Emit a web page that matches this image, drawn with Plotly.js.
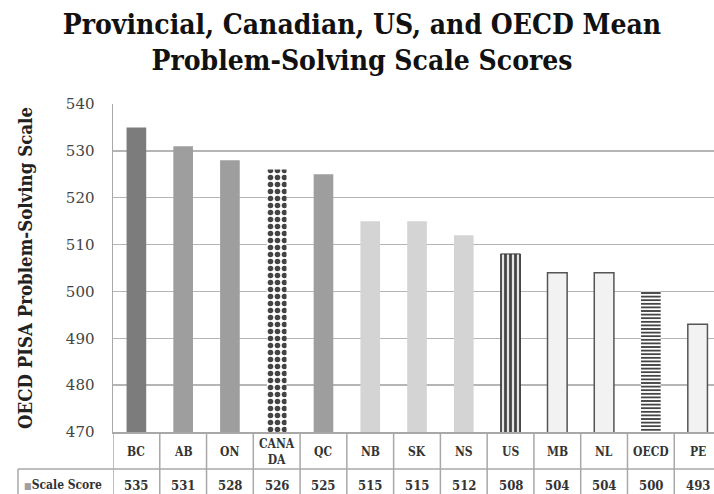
<!DOCTYPE html>
<html>
<head>
<meta charset="utf-8">
<script src="https://cdn.plot.ly/plotly-3.0.1.min.js"></script>
<style>html,body{margin:0;padding:0;background:#fff;}#chart{width:714px;height:494px;}</style>
</head>
<body>
<div id="chart"></div>
<script>
// ---- data ----
var categories = ['BC','AB','ON','CANADA','QC','NB','SK','NS','US','MB','NL','OECD','PE'];
var categoryLabels = ['BC','AB','ON','CANA<br>DA','QC','NB','SK','NS','US','MB','NL','OECD','PE'];
var scores = [535,531,528,526,525,515,515,512,508,504,504,500,493];
var seriesName = 'Scale Score';
var chartTitle = 'Provincial, Canadian, US, and OECD Mean<br>Problem-Solving Scale Scores';
var yTitle = 'OECD PISA Problem-Solving Scale';
var yTicks = [470,480,490,500,510,520,530,540];

// ---- styles ----
var fills    = ['#7c7c7c','#9e9e9e','#9e9e9e','#ffffff','#9e9e9e','#d4d4d4','#d4d4d4','#d4d4d4','#e4e4e4','#f2f2f2','#f2f2f2','#ffffff','#f2f2f2'];
var patShape = ['','','','.','','','','','|','','','-',''];
var lineCol  = ['#7c7c7c','#9e9e9e','#9e9e9e','#ffffff','#9e9e9e','#d4d4d4','#d4d4d4','#d4d4d4','#333333','#555555','#555555','#ffffff','#555555'];
var lineW    = [0,0,0,0,0,0,0,0,1,1.5,1.5,0,1.5];

var serif = '"DejaVu Serif Condensed", "DejaVu Serif", serif';
var serifReg = '"DejaVu Serif", serif';
var gridCol = '#b5b5b5';
var tableCol = '#a8a8a8';

var trace = {
  type: 'bar',
  x: categories,
  y: scores,
  name: seriesName,
  width: 0.42,
  marker: {
    color: fills,
    line: {color: lineCol, width: lineW},
    pattern: {shape: patShape, fgcolor: '#000000', size: [6,6,6,7,6,6,6,6,5,6,6,3.6,6],
      solidity: [0.5,0.5,0.5,0.5,0.5,0.5,0.5,0.5,0.55,0.5,0.5,0.5,0.5], fillmode: 'overlay', fgopacity: 1}
  },
  hoverinfo: 'x+y'
};

// table geometry (paper coords relative to plot area)
var plotTop = 104, plotBottom = 432, plotLeft = 113, plotW = 601;
var plotH = plotBottom - plotTop;
function py(px) { return (plotBottom - px) / plotH; }
function pxX(px) { return (px - plotLeft) / plotW; }

var shapes = [];
shapes.push({type:'line', xref:'paper', yref:'paper', x0:pxX(18), x1:1.0, y0:py(469), y1:py(469), line:{color:tableCol, width:1.5}});
for (var i = 0; i <= categories.length; i++) {
  shapes.push({type:'line', xref:'x', yref:'paper', x0:i-0.5, x1:i-0.5, y0:0, y1:py(500), line:{color:tableCol, width:1.5}});
}
shapes.push({type:'line', xref:'paper', yref:'paper', x0:pxX(18), x1:pxX(18), y0:py(469), y1:py(500), line:{color:tableCol, width:1.5}});

var annotations = [];
for (var j = 0; j < categories.length; j++) {
  annotations.push({xref:'x', yref:'paper', x:categories[j], y:py(452), text:'<b>' + categoryLabels[j].replace('<br>','</b><br><b>') + '</b>', showarrow:false,
    xanchor:'center', yanchor:'middle', font:{family:serif, size:12, color:'#333'}});
  annotations.push({xref:'x', yref:'paper', x:categories[j], y:py(485), text:'<b>'+scores[j]+'</b>', showarrow:false,
    xanchor:'center', yanchor:'middle', font:{family:serif, size:13, color:'#333'}});
}
annotations.push({xref:'paper', yref:'paper', x:pxX(22), y:py(485), xanchor:'left', yanchor:'middle', showarrow:false,
  text:'<span style="color:#a0a0a0;font-size:9px">■</span><b>'+seriesName+'</b>', font:{family:serif, size:12, color:'#333'}});

var layout = {
  width: 714, height: 494,
  margin: {l: plotLeft, r: 0, t: plotTop, b: 494 - plotBottom, pad: 0},
  paper_bgcolor: '#fff', plot_bgcolor: '#fff',
  showlegend: false,
  title: {text: '<b>' + chartTitle.replace('<br>','</b><br><b>') + '</b>', x: 0.507, xref: 'container', xanchor: 'center', y: 0.932, yanchor: 'top', yref:'container',
    font: {family: serif, size: 28, color: '#111'}},
  xaxis: {range: [-0.5, 12.35], showticklabels: false, showgrid: false, zeroline: false, showline: true, linecolor: tableCol, linewidth: 1.5, fixedrange: true, type:'category'},
  yaxis: {range: [470, 540], tickvals: yTicks, ticktext: yTicks.map(String), showgrid: true, gridcolor: gridCol, gridwidth: 1.5,
    zeroline: false, showline: true, linecolor: tableCol, linewidth: 1.5, ticks: 'outside', ticklen: 14, tickcolor: 'rgba(0,0,0,0)',
    tickfont: {family: serifReg, size: 15, color: '#444'},
    title: {text: '<b>' + yTitle + '</b>', standoff: 28, font: {family: serif, size: 18.5, color: '#222'}}},
  shapes: shapes,
  annotations: annotations
};

Plotly.newPlot('chart', [trace], layout, {displayModeBar: false, staticPlot: true});
</script>
</body>
</html>
